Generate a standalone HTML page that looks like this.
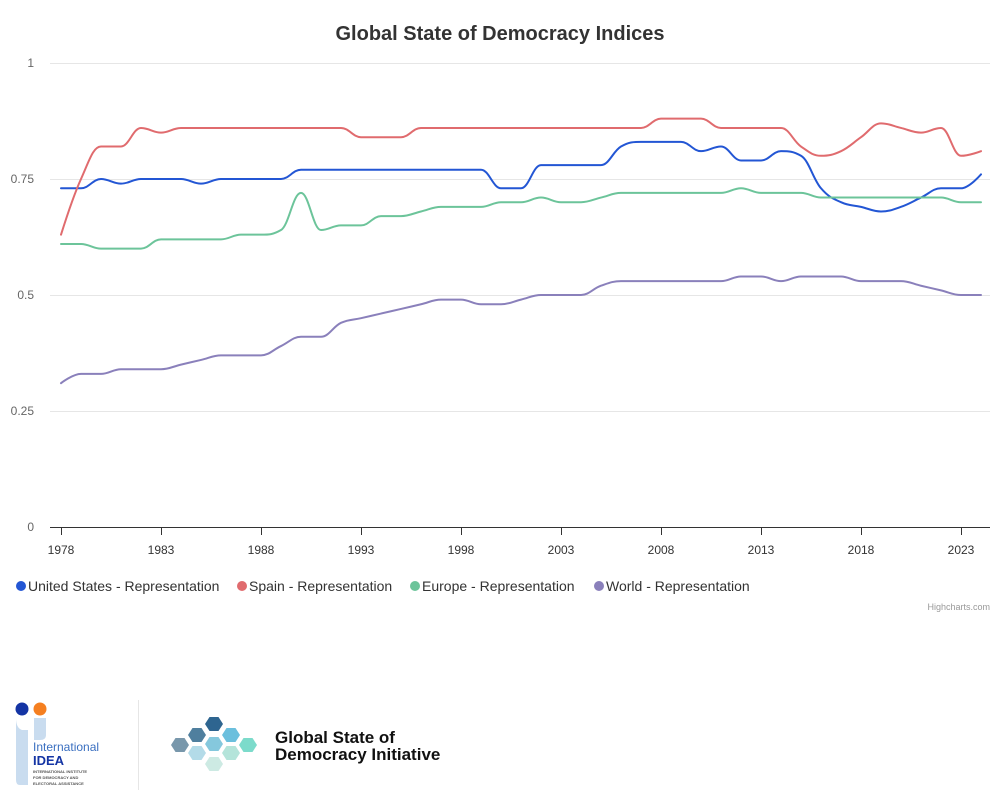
<!DOCTYPE html>
<html><head><meta charset="utf-8">
<style>
body{margin:0;background:#fff;font-family:"Liberation Sans",Arial,sans-serif;}
svg{display:block}
</style></head>
<body>
<svg width="1000" height="806" viewBox="0 0 1000 806" xmlns="http://www.w3.org/2000/svg">
<rect x="0" y="0" width="1000" height="806" fill="#fff"/>
<text x="500" y="40" text-anchor="middle" font-size="20" font-weight="bold" fill="#333">Global State of Democracy Indices</text>
<g id="grid"></g>
<g id="series"></g>
<g id="legend"></g>
<text x="990" y="610" text-anchor="end" font-size="9" fill="#999">Highcharts.com</text>
<line x1="138.5" y1="700" x2="138.5" y2="790" stroke="#e6e6e6"/>
<g>
<circle cx="22" cy="709" r="6.5" fill="#1434a4"/>
<circle cx="40" cy="709" r="6.5" fill="#f57f20"/>
<path d="M16 718 Q16 728 22 730 L28 730 L28 785 L20 785 Q16 785 16 780 Z" fill="#c9dcef"/>
<path d="M34 718 L46 718 L46 735 Q46 740 40 740 L34 740 Z" fill="#c9dcef"/>
<text x="33" y="751" font-size="12" fill="#3a6fc0">International</text>
<text x="33" y="765" font-size="13" font-weight="bold" fill="#1434a4">IDEA</text>
<text x="33" y="773" font-size="4" font-weight="bold" fill="#555">INTERNATIONAL INSTITUTE</text>
<text x="33" y="779" font-size="4" font-weight="bold" fill="#555">FOR DEMOCRACY AND</text>
<text x="33" y="785" font-size="4" font-weight="bold" fill="#555">ELECTORAL ASSISTANCE</text>
</g>
<g id="hexes"></g>
<text x="275" y="743" font-size="17" font-weight="bold" fill="#111">Global State of</text>
<text x="275" y="760" font-size="17" font-weight="bold" fill="#111">Democracy Initiative</text>
</svg>
<script>
const years=[];for(let y=1978;y<=2024;y++)years.push(y);
const xTicks=[1978,1983,1988,1993,1998,2003,2008,2013,2018,2023];
const yTicks=[0,0.25,0.5,0.75,1];
const yTickLabels=["0","0.25","0.5","0.75","1"];
const seriesNames=["United States - Representation","Spain - Representation","Europe - Representation","World - Representation"];
const seriesColors=["#2356d4","#e06b6e","#6cc49a","#8a80bb"];
const usValues=[.73,.73,.75,.74,.75,.75,.75,.74,.75,.75,.75,.75,.77,.77,.77,.77,.77,.77,.77,.77,.77,.77,.73,.73,.78,.78,.78,.78,.82,.83,.83,.83,.81,.82,.79,.79,.81,.80,.73,.70,.69,.68,.69,.71,.73,.73,.76];
const spainValues=[.63,.75,.82,.82,.86,.85,.86,.86,.86,.86,.86,.86,.86,.86,.86,.84,.84,.84,.86,.86,.86,.86,.86,.86,.86,.86,.86,.86,.86,.86,.88,.88,.88,.86,.86,.86,.86,.82,.80,.81,.84,.87,.86,.85,.86,.80,.81];
const europeValues=[.61,.61,.60,.60,.60,.62,.62,.62,.62,.63,.63,.64,.72,.64,.65,.65,.67,.67,.68,.69,.69,.69,.70,.70,.71,.70,.70,.71,.72,.72,.72,.72,.72,.72,.73,.72,.72,.72,.71,.71,.71,.71,.71,.71,.71,.70,.70];
const worldValues=[.31,.33,.33,.34,.34,.34,.35,.36,.37,.37,.37,.39,.41,.41,.44,.45,.46,.47,.48,.49,.49,.48,.48,.49,.50,.50,.50,.52,.53,.53,.53,.53,.53,.53,.54,.54,.53,.54,.54,.54,.53,.53,.53,.52,.51,.50,.50];
const allSeries=[usValues,spainValues,europeValues,worldValues];
const NS="http://www.w3.org/2000/svg";
const X0=61,X1=981,Y0=527,Y1=63;
const xScale=yr=>X0+(yr-1978)*(X1-X0)/(2024-1978);
const yScale=v=>Y0-v*(Y0-Y1);
function mk(tag,attrs,parent){const e=document.createElementNS(NS,tag);for(const k in attrs)e.setAttribute(k,attrs[k]);parent.appendChild(e);return e;}
const grid=document.getElementById('grid');
yTicks.forEach((v,i)=>{
  if(v>0){const l=mk('line',{x1:50,x2:990,y1:yScale(v)+0.5,y2:yScale(v)+0.5,stroke:'#e6e6e6'},grid);
  
  }
  const t=mk('text',{x:34,y:yScale(v)+4,'text-anchor':'end','font-size':12,fill:'#666'},grid);
  t.textContent=yTickLabels[i];
  
  
});
const ax=mk('line',{x1:50,x2:990,y1:Y0+0.5,y2:Y0+0.5,stroke:'#333'},grid);


xTicks.forEach(yr=>{
  const tk=mk('line',{x1:xScale(yr)+0.5,x2:xScale(yr)+0.5,y1:Y0,y2:Y0+8,stroke:'#333'},grid);
  
  
  const t=mk('text',{x:xScale(yr),y:Y0+27,'text-anchor':'middle','font-size':12,fill:'#333'},grid);
  t.textContent=yr;
  
  
});
function splinePath(pts){
  const sm=1.5,den=sm+1;let d='M'+pts[0][0]+' '+pts[0][1];
  const ctrl=[];
  for(let i=0;i<pts.length;i++){
    const p=pts[i],l=pts[i-1],n=pts[i+1];
    if(l&&n){
      let lx=(sm*p[0]+l[0])/den,ly=(sm*p[1]+l[1])/den,rx=(sm*p[0]+n[0])/den,ry=(sm*p[1]+n[1])/den;
      let corr=0;if(rx!==lx)corr=((ry-ly)*(rx-p[0]))/(rx-lx)+p[1]-ry;
      ly+=corr;ry+=corr;
      if(ly>l[1]&&ly>p[1]){ly=Math.max(l[1],p[1]);ry=2*p[1]-ly;}else if(ly<l[1]&&ly<p[1]){ly=Math.min(l[1],p[1]);ry=2*p[1]-ly;}
      if(ry>n[1]&&ry>p[1]){ry=Math.max(n[1],p[1]);ly=2*p[1]-ry;}else if(ry<n[1]&&ry<p[1]){ry=Math.min(n[1],p[1]);ly=2*p[1]-ry;}
      ctrl[i]={l:[lx,ly],r:[rx,ry]};
    }else ctrl[i]={l:p,r:p};
  }
  for(let i=1;i<pts.length;i++){
    const a=ctrl[i-1].r,b=ctrl[i].l,p=pts[i];
    d+=' C'+a[0].toFixed(2)+' '+a[1].toFixed(2)+' '+b[0].toFixed(2)+' '+b[1].toFixed(2)+' '+p[0].toFixed(2)+' '+p[1].toFixed(2);
  }
  return d;
}
const sg=document.getElementById('series');
const seriesIds=['us-line','spain-line','europe-line','world-line'];
allSeries.forEach((vals,si)=>{
  const pts=vals.map((v,i)=>[xScale(years[i]),yScale(v)]);
  const p=mk('path',{d:splinePath(pts),fill:'none',stroke:seriesColors[si],'stroke-width':2,'stroke-linejoin':'round','stroke-linecap':'round'},sg);
  
  
});
const lg=document.getElementById('legend');
const legendX=[15,236,409,593];
seriesNames.forEach((n,i)=>{
  const g=mk('g',{},lg);
  
  
  mk('circle',{cx:legendX[i]+6,cy:586,r:5,fill:seriesColors[i]},g);
  const t=mk('text',{x:legendX[i]+13,y:591,'font-size':14,fill:'#333','textLength':0},g);
  t.removeAttribute('textLength');
  t.textContent=n;
});
const hx=document.getElementById('hexes');
const hexList=[[180,745,'#7897ab'],[197,735,'#4f7f9e'],[197,753,'#b3dbe8'],[214,724,'#2e6590'],[214,744,'#85c8dd'],[214,764,'#cdeae3'],[231,735,'#6bbfdd'],[231,753,'#b4e4da'],[248,745,'#7cdbcb']];
hexList.forEach(h=>{
  const r=9,pts=[];for(let k=0;k<6;k++){const a=Math.PI/3*k;pts.push((h[0]+r*Math.cos(a)).toFixed(1)+','+(h[1]+r*0.9*Math.sin(a)).toFixed(1));}
  const p=mk('polygon',{points:pts.join(' '),fill:h[2]},hx);
  
  
});
</script>
</body></html>
